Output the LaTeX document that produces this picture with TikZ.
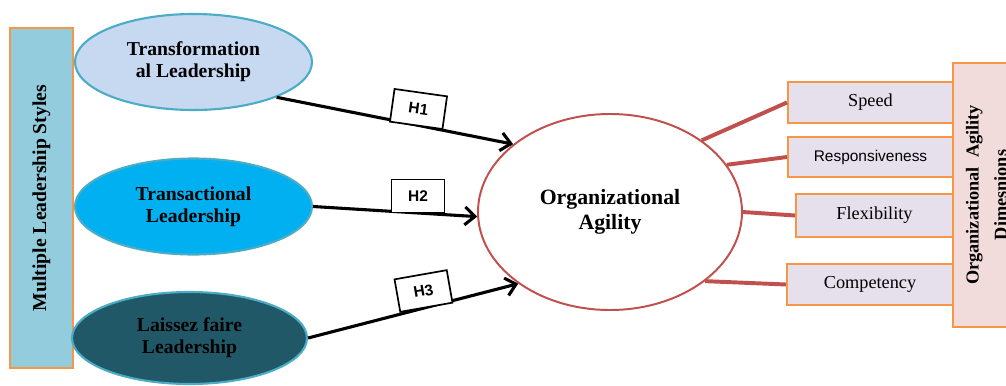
\documentclass[tikz,border=0pt]{standalone}
\usepackage{fontspec}
\setmainfont{Liberation Serif}
\newfontfamily\gothic{Liberation Sans}
\usepackage{tikz}
\usetikzlibrary{positioning,shapes.geometric,arrows.meta}
\definecolor{boxrim}{HTML}{F79646}
\definecolor{ovalrim}{HTML}{4BACC6}
\definecolor{stylefill}{HTML}{93CDDD}
\definecolor{transffill}{HTML}{C6D9F1}
\definecolor{transacfill}{HTML}{00B0F0}
\definecolor{laissezfill}{HTML}{215868}
\definecolor{agilityred}{HTML}{C0504D}
\definecolor{dimfill}{HTML}{E5E0EC}
\definecolor{dimsfill}{HTML}{F2DCDB}
\tikzset{
  styleoval/.style={ellipse,draw=ovalrim,line width=1.5pt,inner sep=0pt,minimum width=59.25mm,minimum height=24mm,align=center,font=\bfseries\fontsize{14}{15.5}\selectfont},
  dimbox/.style={draw=boxrim,fill=dimfill,line width=1.5pt,minimum height=10.25mm,inner sep=0pt,font=\fontsize{13}{15}\selectfont},
  hbox/.style={draw,fill=white,line width=1.2pt,minimum width=13.25mm,minimum height=8.25mm,inner sep=0pt,font=\gothic\bfseries\fontsize{11}{13}\selectfont},
  hyp/.style={line width=2.2pt,-{Straight Barb[length=2.5mm,width=4.5mm]}},
  link/.style={draw=agilityred,line width=2.8pt}
}

\begin{document}
\begin{tikzpicture}[x=0.25mm,y=-0.25mm]
\useasboundingbox (0,0) rectangle (1006,385);
\node[draw=boxrim,fill=stylefill,line width=1.5pt,rotate=90,minimum width=85mm,minimum height=15.75mm,inner sep=0pt,font=\bfseries\fontsize{14}{16}\selectfont] (styles) at (41.5,198) {Multiple Leadership Styles};
\node[styleoval,fill=transffill] (transf) at (193.5,62) {Transformation\\al Leadership};
\node[styleoval,fill=transacfill] (transac) at (193.5,206.5) {Transactional\\Leadership};
\node[styleoval,fill=laissezfill,minimum width=58.75mm,minimum height=23mm] (laissez) at (189.5,338) {Laissez faire\\Leadership};
\node[ellipse,draw=agilityred,fill=white,line width=1.4pt,minimum width=66mm,minimum height=49mm,inner sep=0pt,align=center,font=\bfseries\fontsize{15.5}{18}\selectfont] (agility) at (610,212) {Organizational\\Agility};
\node[dimbox,minimum width=41.25mm] (speed) at (870.5,102.5) {Speed};
\node[dimbox,minimum width=41.25mm,minimum height=10mm,font=\gothic\fontsize{11}{13}\selectfont] (resp) at (870.5,157) {Responsiveness};
\node[dimbox,minimum width=39.25mm,minimum height=10.75mm] (flex) at (874.5,215.5) {Flexibility};
\node[dimbox,minimum width=41.5mm] (comp) at (870,284.5) {Competency};
\node[draw=boxrim,fill=dimsfill,line width=1.5pt,rotate=90,minimum width=66mm,minimum height=16.75mm,inner sep=0pt,align=center,font=\bfseries\fontsize{13}{20}\selectfont] (dims) at (986.5,195) {Organizational~ Agility\\Dimesnions};
\draw[link] (agility.38) -- (speed.west);
\draw[link] (agility.22) -- (resp.west);
\draw[link] (agility.east) -- (flex.west);
\draw[link] (agility.-36) -- (comp.west);
\draw[hyp] (transf.-23) -- (agility.145);
\draw[hyp] (transac.east) -- (agility.182);
\draw[hyp] (laissez.east) -- (agility.218);
\node[hbox,rotate=-8] (h1) at (418.5,109) {H1};
\node[hbox] (h2) at (418,196) {H2};
\node[hbox,rotate=10] (h3) at (423.5,291) {H3};
\end{tikzpicture}
\end{document}
